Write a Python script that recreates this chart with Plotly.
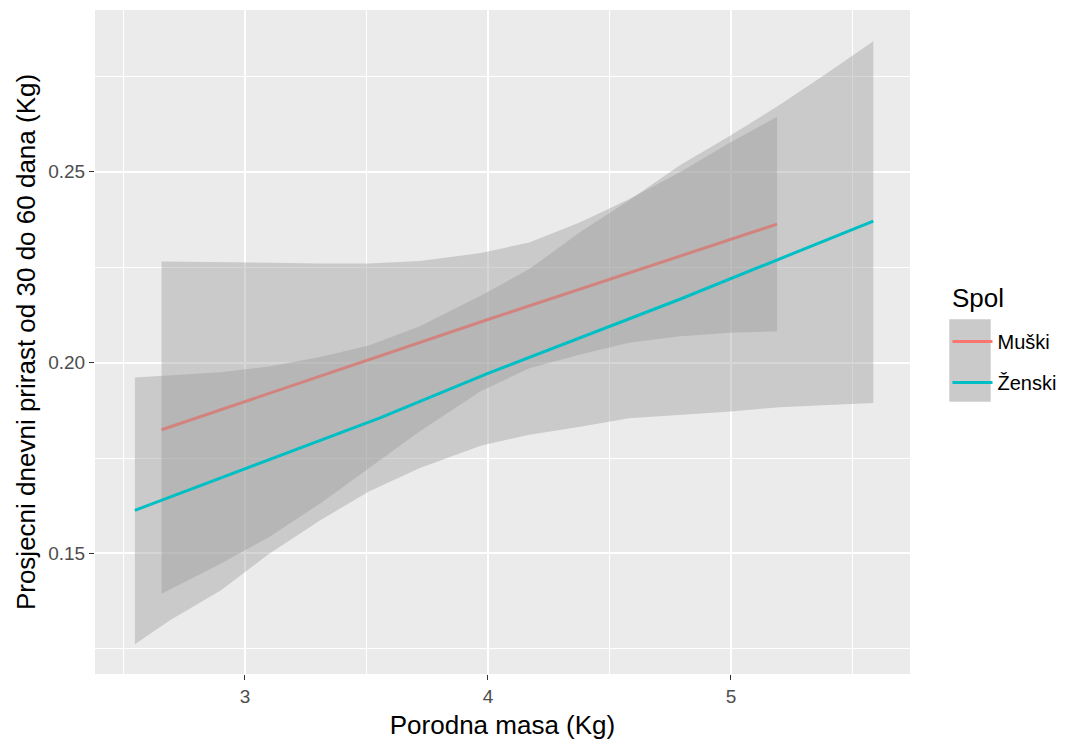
import plotly.graph_objects as go

# ---- data ----
groups = ["Muški", "Ženski"]
colors = ["#F8766D", "#00BFC4"]
legend_title = "Spol"

male_x = [2.657, 2.90, 3.10, 3.31, 3.51, 3.72, 3.97, 4.17, 4.38, 4.58, 4.79, 5.00, 5.19]
male_upper = [0.2265, 0.2263, 0.2261, 0.2260, 0.2260, 0.2266, 0.2287, 0.2315, 0.2368, 0.2428, 0.2499, 0.2578, 0.2644]
male_lower = [0.1394, 0.1473, 0.1543, 0.1631, 0.1722, 0.1820, 0.1925, 0.1985, 0.2021, 0.2052, 0.2069, 0.2078, 0.2082]

male_fit_x = [2.657, 4.00, 5.19]
male_fit = [0.1824, 0.2113, 0.2363]

female_x = [2.547, 2.69, 2.90, 3.10, 3.31, 3.51, 3.72, 3.97, 4.17, 4.38, 4.58, 4.79, 5.00, 5.20, 5.40, 5.586]
female_upper = [0.1961, 0.1966, 0.1975, 0.1990, 0.2015, 0.2045, 0.2095, 0.2175, 0.2245, 0.2342, 0.2425, 0.2517, 0.2596, 0.2675, 0.2760, 0.2842]
female_lower = [0.1262, 0.1324, 0.1403, 0.1499, 0.1587, 0.1662, 0.1724, 0.1782, 0.1811, 0.1832, 0.1854, 0.1863, 0.1872, 0.1883, 0.1889, 0.1894]

female_fit_x = [2.547, 3.556, 4.00, 4.79, 5.586]
female_fit = [0.1613, 0.1855, 0.1972, 0.2166, 0.2371]

x_ticks = [3, 4, 5]
y_ticks = [0.15, 0.20, 0.25]
y_tick_labels = ["0.15", "0.20", "0.25"]

fig = go.Figure()

series = [
    (male_x, male_upper, male_lower, male_fit_x, male_fit),
    (female_x, female_upper, female_lower, female_fit_x, female_fit),
]
for name, col, (xs, up, lo, fx, fy) in zip(groups, colors, series):
    fig.add_trace(go.Scatter(
        x=list(xs) + list(xs)[::-1],
        y=list(up) + list(lo)[::-1],
        fill="toself", fillcolor="rgba(153,153,153,0.4)",
        line=dict(width=0), mode="lines", hoverinfo="skip", showlegend=False,
    ))
    fig.add_trace(go.Scatter(
        x=fx, y=fy, mode="lines", name=name, legendgroup=name,
        line=dict(color=col, width=3),
    ))

# gray legend key background (ggplot-style)
fig.add_shape(type="rect", xref="paper", yref="paper",
              x0=(949.3 - 95) / 815, x1=(990.7 - 95) / 815,
              y0=(674 - 401.7) / 664, y1=(674 - 319.3) / 664,
              fillcolor="#CACACA", line=dict(width=0), layer="below")

# legend title
fig.add_annotation(text=legend_title, xref="paper", yref="paper",
                   x=(950 - 95) / 815, y=(674 - 298) / 664,
                   xanchor="left", yanchor="middle", showarrow=False,
                   font=dict(size=26, color="#000000"))

fig.update_layout(
    width=1074, height=747,
    margin=dict(l=95, r=164, t=10, b=73),
    paper_bgcolor="white", plot_bgcolor="#EBEBEB",
    font=dict(family="Liberation Sans, Arial, sans-serif", color="#000000"),
    legend=dict(
        x=1.046, xanchor="left", y=(674 - 322) / 664, yanchor="top",
        font=dict(size=20, color="#000000"),
        bgcolor="rgba(0,0,0,0)", itemwidth=40,
        tracegroupgap=12,
    ),
    showlegend=True,
)

fig.update_xaxes(
    range=[2.383, 5.737], tickvals=x_ticks, ticktext=[str(v) for v in x_ticks],
    showgrid=True, gridcolor="white", gridwidth=1.8,
    minor=dict(dtick=0.5, tick0=2.5, showgrid=True, gridcolor="white", gridwidth=0.9, ticks=""),
    ticks="outside", ticklen=5, tickwidth=1.2, tickcolor="#333333",
    tickfont=dict(size=19, color="#4D4D4D"),
    title=dict(text="Porodna masa (Kg)", font=dict(size=26, color="#000000"), standoff=10),
    zeroline=False, showline=False,
)
fig.update_yaxes(
    range=[0.1184, 0.2924], tickvals=y_ticks, ticktext=y_tick_labels,
    showgrid=True, gridcolor="white", gridwidth=1.8,
    minor=dict(dtick=0.05, tick0=0.125, showgrid=True, gridcolor="white", gridwidth=0.9, ticks=""),
    ticks="outside", ticklen=5, tickwidth=1.2, tickcolor="#333333",
    tickfont=dict(size=19, color="#4D4D4D"),
    title=dict(text="Prosjecni dnevni prirast od 30 do 60 dana (Kg)", font=dict(size=26, color="#000000"), standoff=5),
    zeroline=False, showline=False,
)

fig.write_html("out.html", config={"displayModeBar": False},
               post_script="document.body.style.margin='0px';")
